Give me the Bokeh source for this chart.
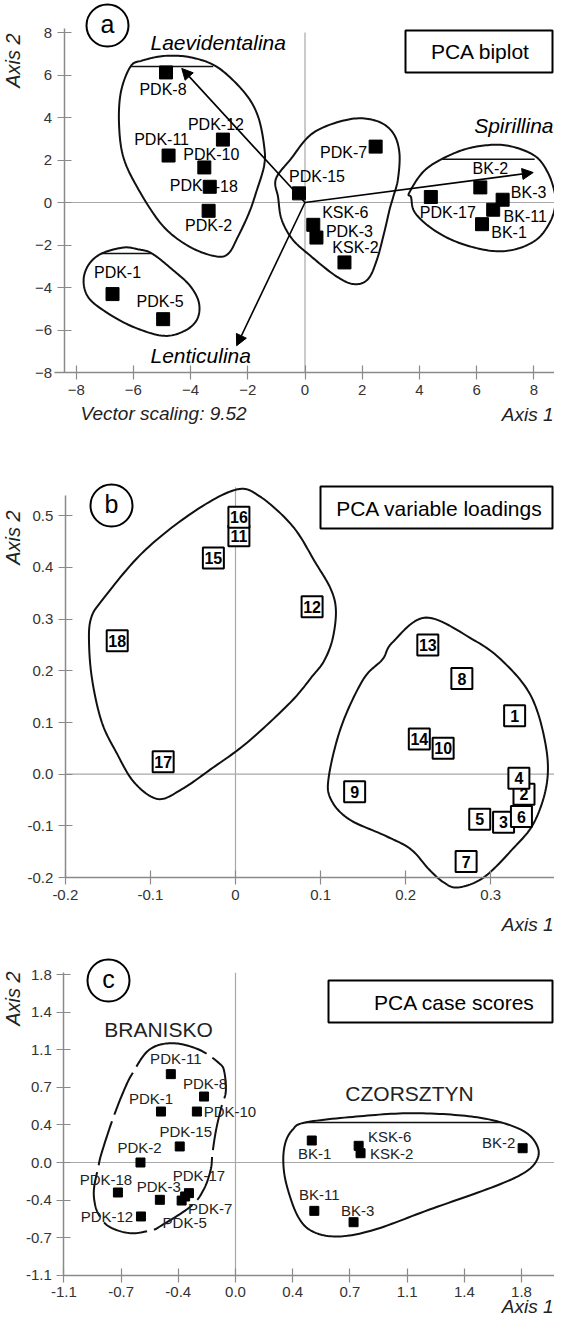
import math
from bokeh.plotting import figure
from bokeh.layouts import column
from bokeh.models import ColumnDataSource, Arrow, NormalHead, FixedTicker, Range1d
from bokeh.core.properties import value
from bokeh.embed import file_html
from bokeh.resources import INLINE

FONT = "Liberation Sans"

# ---------------- panel a : PCA biplot ----------------
a_names = ["PDK-8", "PDK-12", "PDK-11", "PDK-10", "PDK-18", "PDK-2", "PDK-15", "PDK-7",
           "KSK-6", "PDK-3", "KSK-2", "PDK-1", "PDK-5", "PDK-17", "BK-2", "BK-3", "BK-11", "BK-1"]
a_x = [-4.86, -2.87, -4.77, -3.52, -3.33, -3.37, -0.21, 2.47,
       0.29, 0.40, 1.38, -6.73, -4.96, 4.40, 6.13, 6.91, 6.58, 6.19]
a_y = [6.12, 2.96, 2.21, 1.65, 0.74, -0.39, 0.43, 2.63,
       -1.05, -1.65, -2.82, -4.31, -5.49, 0.26, 0.71, 0.13, -0.34, -1.02]
vec_names = ["Laevidentalina", "Spirillina", "Lenticulina"]
vec_x = [-4.31, 7.98, -2.39]
vec_y = [6.31, 1.41, -6.74]
vector_scaling = "9.52"
a_ticks = [-8, -6, -4, -2, 0, 2, 4, 6, 8]

# group outlines of panel a (control points)
a_g1_x = [-6.10, -5.69, -4.89, -3.96, -3.04, -2.12, -1.65, -1.43, -1.43, -1.71, -1.95, -2.33,
          -2.70, -3.21, -4.09, -4.97, -5.76, -6.33, -6.50, -6.44]
a_g1_y = [6.40, 6.68, 6.90, 6.82, 6.35, 5.18, 4.08, 2.67, 1.73, 0.47, -0.47, -1.57,
          -2.43, -2.51, -2.04, -1.10, 0.47, 2.04, 3.61, 5.18]
a_g2_x = [-7.11, -6.35, -5.85, -5.35, -4.59, -4.02, -3.71, -3.77, -4.21, -4.97, -6.10, -7.11,
          -7.61, -7.74, -7.55]
a_g2_y = [-2.40, -2.12, -2.20, -2.40, -3.21, -3.92, -4.71, -5.49, -6.04, -6.27, -5.80, -5.02,
          -4.39, -3.61, -2.90]
a_g3_x = [-1.02, -0.50, 0.30, 1.57, 2.50, 3.07, 3.30, 3.25, 3.08, 2.96, 2.77, 2.52, 2.20, 1.70,
          1.07, 0.19, -0.44, -0.82, -0.94]
a_g3_y = [1.10, 2.04, 3.29, 3.92, 3.84, 3.29, 2.35, 1.10, 0.24, -0.32, -1.41, -2.67, -3.61, -3.84,
          -3.45, -2.51, -1.73, -0.79, 0.24]
a_g4_x = [3.65, 4.23, 5.27, 6.19, 7.11, 8.03, 8.49, 8.73, 8.75, 8.56, 8.11, 7.36, 6.48, 5.35,
          4.47, 3.84, 3.71]
a_g4_y = [0.47, 1.57, 2.35, 2.67, 2.67, 2.20, 1.41, 0.47, -0.16, -0.94, -1.73, -2.20, -2.27, -1.88,
          -1.26, -0.47, 0.24]
a_chords_x0 = [-6.10, -7.11, 4.80]
a_chords_x1 = [-3.21, -5.35, 8.03]
a_chords_y = [6.40, -2.40, 2.04]

# ---------------- panel b : PCA variable loadings ----------------
b_ids = [str(i) for i in range(1, 19)]
b_x = [0.328, 0.339, 0.315, 0.333, 0.287, 0.336, 0.271, 0.266, 0.140,
       0.244, 0.004, 0.090, 0.226, 0.216, -0.026, 0.004, -0.085, -0.139]
b_y = [0.113, -0.039, -0.093, -0.008, -0.087, -0.082, -0.169, 0.185, -0.034,
       0.050, 0.461, 0.324, 0.250, 0.068, 0.418, 0.497, 0.024, 0.258]
b_xticks = [-0.2, -0.1, 0.0, 0.1, 0.2, 0.3]
b_xtick_labels = ["-0.2", "-0.1", "0", "0.1", "0.2", "0.3"]
b_yticks = [-0.2, -0.1, 0.0, 0.1, 0.2, 0.3, 0.4, 0.5]
b_ytick_labels = ["-0.2", "-0.1", "0.0", "0.1", "0.2", "0.3", "0.4", "0.5"]
b_g1_x = [0.000, 0.028, 0.067, 0.094, 0.112, 0.118, 0.114, 0.104, 0.0905, 0.0646, 0.0135, -0.029,
          -0.063, -0.091, -0.119, -0.140, -0.157, -0.168, -0.172, -0.170, -0.156, -0.109, -0.0505]
b_g1_y = [0.550, 0.538, 0.480, 0.409, 0.358, 0.316, 0.261, 0.219, 0.190, 0.139, 0.061, 0.0097,
          -0.029, -0.048, -0.016, 0.042, 0.100, 0.178, 0.248, 0.300, 0.338, 0.429, 0.506]
b_g2_x = [0.2236, 0.2785, 0.3137, 0.347, 0.364, 0.366, 0.351, 0.3255, 0.2914, 0.2615, 0.2444,
          0.2273, 0.2059, 0.1759, 0.1333, 0.1119, 0.1098, 0.1246, 0.1504, 0.1727, 0.1845]
b_g2_y = [0.303, 0.261, 0.219, 0.152, 0.061, -0.016, -0.093, -0.145, -0.200, -0.219, -0.209,
          -0.184, -0.145, -0.119, -0.087, -0.048, -0.003, 0.0936, 0.184, 0.222, 0.255]

# ---------------- panel c : PCA case scores ----------------
c_names = ["PDK-11", "PDK-8", "PDK-1", "PDK-10", "PDK-15", "PDK-2", "PDK-17", "PDK-18", "PDK-3",
           "PDK-7", "PDK-12", "PDK-5", "BK-1", "KSK-6", "KSK-2", "BK-2", "BK-11", "BK-3"]
c_x = [-0.407, -0.198, -0.469, -0.243, -0.351, -0.598, -0.293, -0.740, -0.476,
       -0.317, -0.595, -0.339, 0.480, 0.775, 0.787, 1.807, 0.496, 0.743]
c_y = [0.848, 0.633, 0.489, 0.489, 0.154, 0.000, -0.294, -0.288, -0.358,
       -0.326, -0.518, -0.365, 0.211, 0.160, 0.089, 0.137, -0.464, -0.573]
c_groups = ["BRANISKO", "CZORSZTYN"]
c_ticks = [-1.08, -0.72, -0.36, 0.0, 0.36, 0.72, 1.08, 1.44, 1.80]
c_tick_labels = ["-1.1", "-0.7", "-0.4", "0.0", "0.4", "0.7", "1.1", "1.4", "1.8"]
c_g1_x = [-0.396, -0.543, -0.648, -0.705, -0.774, -0.843, -0.865, -0.889, -0.889, -0.865, -0.797,
          -0.660, -0.522, -0.476, -0.282, -0.201, -0.156, -0.145, -0.122, -0.088, -0.061, -0.071,
          -0.103, -0.228]
c_g1_y = [1.145, 1.082, 0.857, 0.681, 0.410, 0.089, -0.055, -0.230, -0.358, -0.487, -0.614,
          -0.679, -0.646, -0.614, -0.422, -0.262, -0.070, 0.089, 0.314, 0.537, 0.681, 0.873,
          0.953, 1.082]
c_g2_x = [0.439, 0.759, 1.103, 1.446, 1.674, 1.834, 1.904, 1.892, 1.812, 1.629, 1.217, 0.873,
          0.645, 0.485, 0.393, 0.324, 0.301, 0.313, 0.359]
c_g2_y = [0.384, 0.441, 0.473, 0.448, 0.384, 0.281, 0.137, 0.010, -0.103, -0.230, -0.454, -0.646,
          -0.710, -0.662, -0.518, -0.230, -0.006, 0.185, 0.314]
c_chords_x0 = [0.439]
c_chords_x1 = [1.674]
c_chords_y = [0.384]

# ======================= layout / styling =======================
W = 554
AXIS_GRAY = "#8a8a8a"
ZERO_GRAY = "#a8a8a8"
INK = "#111111"

# label offsets in screen pixels (dx, dy; dy positive = down)
A_LAB = {
    "PDK-8": [("PDK-8", -3, 17, "center")], "PDK-12": [("PDK-12", -7, -15, "center")],
    "PDK-11": [("PDK-11", -7, -16, "center")], "PDK-10": [("PDK-10", 7, -13, "center")],
    "PDK-18": [("PDK", -7, -1, "right"), ("-18", 5, -1, "left")],
    "PDK-2": [("PDK-2", 0, 15, "center")], "PDK-15": [("PDK-15", 18, -17, "center")],
    "PDK-7": [("PDK-7", -32, 6, "center")], "KSK-6": [("KSK-6", 32, -12, "center")],
    "PDK-3": [("PDK-3", 33, -6, "center")], "KSK-2": [("KSK-2", 11, -15, "center")],
    "PDK-1": [("PDK-1", 5, -22, "center")], "PDK-5": [("PDK-5", -3, -18, "center")],
    "PDK-17": [("PDK-17", 17, 16, "center")], "BK-2": [("BK-2", 10, -19, "center")],
    "BK-3": [("BK-3", 26, -7, "center")], "BK-11": [("BK-11", 32, 7, "center")],
    "BK-1": [("BK-1", 27, 8, "center")],
}
C_LAB = {
    "PDK-11": (5, -16), "PDK-8": (1, -13), "PDK-1": (-10, -13), "PDK-10": (33, 0),
    "PDK-15": (6, -15), "PDK-2": (-1, -15), "PDK-17": (10, -18), "PDK-18": (-12, -13),
    "PDK-3": (-1, -13), "PDK-7": (25, 12), "PDK-12": (-34, 0), "PDK-5": (3, 22),
    "BK-1": (3, 13), "KSK-6": (31, -9), "KSK-2": (31, 0), "BK-2": (-24, -6),
    "BK-11": (5, -16), "BK-3": (4, -12),
}


def smooth_closed(xs, ys, n=14):
    m = len(xs)
    ox, oy = [], []
    for i in range(m):
        p0, p1 = i - 1, i
        p2, p3 = (i + 1) % m, (i + 2) % m
        for k in range(n):
            t = k / n
            t2, t3 = t * t, t * t * t
            for src, out in ((xs, ox), (ys, oy)):
                a0, a1, a2, a3 = src[p0], src[p1], src[p2], src[p3]
                out.append(0.5 * (2 * a1 + (-a0 + a2) * t + (2 * a0 - 5 * a1 + 4 * a2 - a3) * t2
                                  + (-a0 + 3 * a1 - 3 * a2 + a3) * t3))
    ox.append(ox[0])
    oy.append(oy[0])
    return ox, oy


class Panel:
    """A figure whose frame fills the whole canvas; page pixel <-> data mapping."""

    def __init__(self, top, height, ox, sx, oy, sy, shift=0.0):
        self.top, self.height = top, height
        self.shift = shift
        self.ox, self.sx, self.oy, self.sy = ox, sx, oy + shift, sy
        self.xr = ((8 - ox) / sx, (8 + W - ox) / sx)
        self.yr = ((self.oy - (top + height)) / sy, (self.oy - top) / sy)
        p = figure(width=W, height=height, x_range=Range1d(*self.xr), y_range=Range1d(*self.yr),
                   output_backend="svg", toolbar_location=None, title=None, min_border=0)
        p.outline_line_color = None
        p.grid.visible = False
        p.background_fill_color = "white"
        p.border_fill_color = "white"
        for ax in (p.xaxis[0], p.yaxis[0]):
            ax.axis_line_color = AXIS_GRAY
            ax.axis_line_width = 1.5
            ax.major_tick_line_color = AXIS_GRAY
            ax.major_tick_line_width = 1.2
            ax.major_tick_in = 7
            ax.major_tick_out = 7
            ax.minor_tick_line_color = None
            ax.major_label_text_font = FONT
            ax.major_label_text_font_size = "15px"
            ax.major_label_text_color = "#333333"
            ax.major_label_standoff = 5
        self.p = p

    def fx(self, px):
        return (px - self.ox) / self.sx

    def fy(self, py):
        return (self.oy - (py + self.shift)) / self.sy

    def axes(self, xloc, yloc, xb, yb, xticks, yticks, xlabels=None, ylabels=None):
        p = self.p
        p.xaxis.fixed_location = xloc
        p.yaxis.fixed_location = yloc
        p.xaxis.bounds = xb
        p.yaxis.bounds = yb
        p.xaxis.ticker = FixedTicker(ticks=xticks)
        p.yaxis.ticker = FixedTicker(ticks=yticks)
        if xlabels:
            p.xaxis.major_label_overrides = dict(zip(xticks, xlabels))
        if ylabels:
            p.yaxis.major_label_overrides = dict(zip(yticks, ylabels))

    def zero_lines(self, x_from, y_from, vtop):
        self.p.segment(x0=[0, x_from], y0=[y_from, 0], x1=[0, self.xr[1]], y1=[vtop, 0],
                       line_color=ZERO_GRAY, line_width=1.2)

    def text(self, px, py, s, size, align="center", style="normal", color="black", angle=0.0,
             fixed=False):
        y = (self.oy - py) / self.sy if fixed else self.fy(py)
        self.p.text([self.fx(px)], [y], text=[s], text_font=value(FONT),
                    text_font_size=value(size), text_font_style=style, text_align=align,
                    text_baseline="middle", text_color=color, angle=angle)

    def deco(self, letter, cxy, box, box_text, tcx, tcy, axis2_y, axis1_y):
        p = self.p
        p.scatter([self.fx(cxy[0])], [self.fy(cxy[1])], marker="circle", size=42,
                  fill_color=None, line_color="black", line_width=2)
        self.text(cxy[0], cxy[1] - 2, letter, "25px")
        p.quad(left=[self.fx(box[0])], right=[self.fx(box[1])], top=[self.fy(box[2])],
               bottom=[self.fy(box[3])], fill_color=None, line_color="black", line_width=2)
        self.text(tcx, tcy, box_text, "21px")
        self.text(20, axis2_y, "Axis 2", "20px", style="italic", color="#222222",
                  angle=math.pi / 2)
        self.text(561, axis1_y, "Axis 1", "19px", align="right", style="italic",
                  color="#222222", fixed=True)


# ---------------- figure a ----------------
A = Panel(8, 442, 312.5, 28.6, 210.0, 21.25)
pa = A.p
A.axes(-8.0, -8.42, (-8.75, A.xr[1]), (-8.0, 8.2), a_ticks, a_ticks)
A.zero_lines(-8.42, -8.0, 8.0)
for gx, gy in ((a_g1_x, a_g1_y), (a_g2_x, a_g2_y), (a_g3_x, a_g3_y), (a_g4_x, a_g4_y)):
    sx, sy = smooth_closed(gx, gy)
    pa.line(sx, sy, line_color=INK, line_width=2, line_join="round")
pa.segment(x0=a_chords_x0, y0=a_chords_y, x1=a_chords_x1, y1=a_chords_y,
           line_color=INK, line_width=1.5)
pa.add_layout(Arrow(end=NormalHead(size=11, fill_color="black", line_color="black"),
                    source=ColumnDataSource(dict(x0=[0.0] * len(vec_x), y0=[0.0] * len(vec_y),
                                                 x1=vec_x, y1=vec_y)),
                    x_start="x0", y_start="y0", x_end="x1", y_end="y1",
                    line_color="black", line_width=1.6))
pa.scatter(a_x, a_y, marker="square", size=13, color="black")
lx, ly, lt, ldx, ldy, lal = [], [], [], [], [], []
for n, x, y in zip(a_names, a_x, a_y):
    for txt, dx, dy, al in A_LAB[n]:
        lx.append(x); ly.append(y); lt.append(txt); ldx.append(dx); ldy.append(dy); lal.append(al)
pa.text(x="x", y="y", text="t", x_offset="dx", y_offset="dy", text_align="al",
        source=ColumnDataSource(dict(x=lx, y=ly, t=lt, dx=ldx, dy=ldy, al=lal)),
        text_font=value(FONT), text_font_size=value("16px"), text_baseline="middle",
        text_color="black")
VEC_POS = {"Laevidentalina": (158, 50, "left"), "Spirillina": (561, 133, "right"),
           "Lenticulina": (158, 363, "left")}
for n in vec_names:
    px, py, al = VEC_POS[n]
    A.text(px, py, n, "21px", align=al, style="italic")
A.deco("a", (115, 33), (413, 560, 38, 80), "PCA biplot", 488, 59, 68, 422)
A.text(88, 421, "Vector scaling: " + vector_scaling, "19px", align="left", style="italic",
       color="#222222")

# ---------------- figure b ----------------
B = Panel(450, 500, 243.0, 851.0, 781.7, 517.0)
pb = B.p
B.axes(-0.2, -0.2, (-0.2, B.xr[1]), (-0.2, 0.539), b_xticks, b_yticks,
       b_xtick_labels, b_ytick_labels)
B.zero_lines(-0.2, -0.2, 0.555)
for gx, gy in ((b_g1_x, b_g1_y), (b_g2_x, b_g2_y)):
    sx, sy = smooth_closed(gx, gy)
    pb.line(sx, sy, line_color=INK, line_width=2, line_join="round")
srcb = ColumnDataSource(dict(x=b_x, y=b_y, t=b_ids))
pb.scatter("x", "y", source=srcb, marker="square", size=21, fill_color="white",
           line_color="black", line_width=2)
pb.text("x", "y", text="t", source=srcb, text_font=value(FONT), text_font_style="bold",
        text_font_size=value("16px"), text_align="center", text_baseline="middle",
        text_color="black")
B.deco("b", (119, 513), (328, 560, 494, 536), "PCA variable loadings", 447, 516, 545, 932)

# ---------------- figure c (drawn 6 px higher so the bottom title fits the page) ----------------
C = Panel(950, 377, 243.0, 158.9, 1176.0, 104.2, shift=-6.0)
pc = C.p
C.axes(-1.08, -1.08, (-1.08, C.xr[1]), (-1.08, 1.82), c_ticks, c_ticks,
       c_tick_labels, c_tick_labels)
C.zero_lines(-1.08, -1.08, 1.82)
sx, sy = smooth_closed(c_g1_x, c_g1_y)
pc.line(sx, sy, line_color=INK, line_width=2, line_dash="46 7", line_join="round")
sx, sy = smooth_closed(c_g2_x, c_g2_y)
pc.line(sx, sy, line_color=INK, line_width=2, line_join="round")
pc.segment(x0=c_chords_x0, y0=c_chords_y, x1=c_chords_x1, y1=c_chords_y,
           line_color=INK, line_width=1.5)
pc.scatter(c_x, c_y, marker="square", size=9, color="black")
pc.text(x="x", y="y", text="t", x_offset="dx", y_offset="dy",
        source=ColumnDataSource(dict(x=c_x, y=c_y, t=c_names,
                                     dx=[C_LAB[n][0] for n in c_names],
                                     dy=[C_LAB[n][1] for n in c_names])),
        text_font=value(FONT), text_font_size=value("15px"), text_align="center",
        text_baseline="middle", text_color="#222222")
GROUP_POS = {"BRANISKO": (166, 1043), "CZORSZTYN": (417, 1107)}
for g in c_groups:
    px, py = GROUP_POS[g]
    C.text(px, py, g, "21px", color="#222222")
C.deco("c", (116, 994), (336, 560, 994, 1036), "PCA case scores", 462, 1016, 1012, 1314)

layout = column(pa, pb, pc, spacing=0)
open("out.html", "w").write(file_html(layout, INLINE))
